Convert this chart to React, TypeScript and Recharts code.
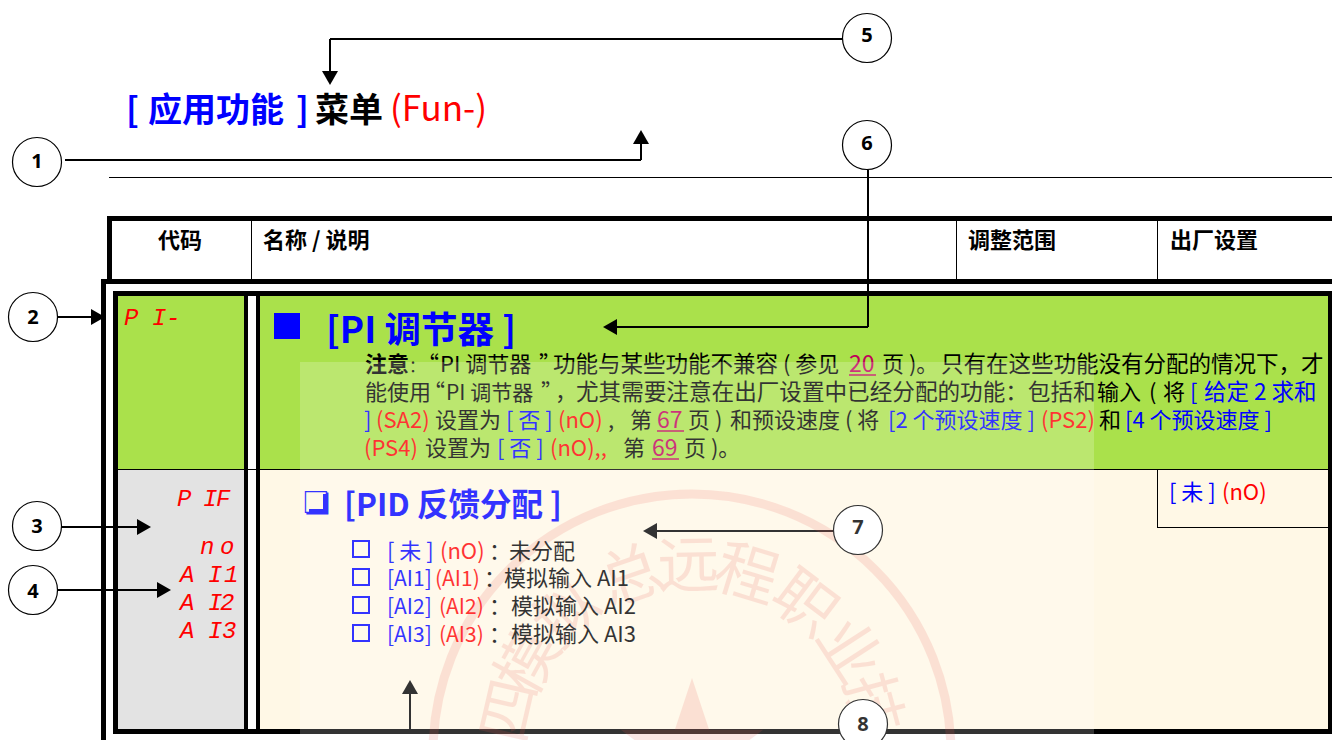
import { ReferenceArea, ReferenceLine, Scatter, ScatterChart, XAxis, YAxis } from "recharts";

const WIDTH = 1332;
const HEIGHT = 740;

const CJK = '"Noto Sans CJK SC", "Noto Sans", sans-serif';
const SEG = '"Liberation Mono", monospace';

const colors: any = {
  blue: "#0000ff",
  red: "#ff0000",
  ink: "#000000",
  link: "#c0005a",
  green: "#aae14b",
  grey: "#e3e3e3",
  cream: "#fff8e6",
};

// callouts
const calloutLabels = ["1", "2", "3", "4", "5", "6", "7", "8"];
const calloutX = [37, 33, 37, 33, 867, 867, 858, 863];
const calloutY = [162, 317, 526, 590, 38, 145, 530, 724];
const calloutBaseline = [168, 324, 533, 598, 42, 150, 534, 731];

// leader lines: x1, y1, x2, y2
const leaders = [
  [330, 39, 842, 39],
  [330, 39, 330, 72],
  [65, 160, 641, 160],
  [641, 160, 641, 143],
  [58, 317, 92, 317],
  [55, 527, 138, 527],
  [58, 590, 158, 590],
  [868, 170, 868, 327],
  [868, 327, 616, 327],
  [833, 531, 655, 531],
  [410, 729, 410, 693],
];

// arrow heads: tip x, tip y, direction
const arrowTips = [
  { x: 330, y: 85, dir: "down" },
  { x: 641, y: 130, dir: "up" },
  { x: 105, y: 317, dir: "right" },
  { x: 151, y: 527, dir: "right" },
  { x: 171, y: 590, dir: "right" },
  { x: 603, y: 327, dir: "left" },
  { x: 643, y: 531, dir: "left" },
  { x: 410, y: 680, dir: "up" },
];

// table cells and rules: x1, y1, x2, y2, colour
const cells: any[] = [
  [118, 296, 244, 469, colors.green],
  [260, 296, 1328, 469, colors.green],
  [118, 470, 244, 729, colors.grey],
  [260, 470, 1328, 729, colors.cream],
];
const rules: any[] = [
  [109, 177, 1332, 178],
  [107, 216, 1332, 221],
  [107, 216, 112, 280],
  [251, 221, 252, 280],
  [956, 221, 957, 280],
  [1157, 221, 1158, 280],
  [101, 279, 1332, 284],
  [101, 279, 106, 740],
  [113, 291, 1332, 296],
  [113, 291, 118, 734],
  [244, 291, 248, 734],
  [256, 291, 260, 734],
  [1328, 291, 1332, 734],
  [113, 729, 1332, 734],
  [118, 469, 1328, 470],
  [1157, 470, 1158, 528],
  [1157, 527, 1328, 528],
];
const solidBoxes: any[] = [
  [274, 313, 300, 339],
  [323, 494, 327, 513],
  [309, 509, 327, 513],
];
const checkBoxes = [541, 569, 597, 625];

// x, baseline, text, colour, size, bold
const textRuns: any[] = [
  [126, 122, "[", "blue", 34, 1],
  [148, 122, "应用功能", "blue", 34, 1],
  [296, 122, "]", "blue", 34, 1],
  [315, 122, "菜单", "ink", 34, 1],
  [390, 121, "(Fun-)", "red", 35, 0],

  [158, 248, "代码", "ink", 22, 1],
  [263, 248, "名称 / 说明", "ink", 22, 1],
  [968, 248, "调整范围", "ink", 22, 1],
  [1170, 248, "出厂设置", "ink", 22, 1],

  [326, 343, "[PI 调节器 ]", "blue", 36.5, 1],

  [365, 372, "注意", "ink", 22, 1],
  [409, 372, "：", "ink", 16, 0],
  [417, 372, "“", "ink", 22, 0],
  [440, 372, "PI 调节器", "ink", 22, 0],
  [539, 372, "”", "ink", 22, 0],
  [553, 372, "功能与某些功能不兼容", "ink", 22.5, 0],
  [783, 372, "( 参见", "ink", 22, 0],
  [849, 372, "20", "link", 23, 0],
  [882, 372, "页 )。", "ink", 22, 0],
  [941, 372, "只有在这些功能没有分配的情况下，才", "ink", 22.5, 0],

  [365, 400, "能使用", "ink", 22, 0],
  [423, 400, "“", "ink", 22, 0],
  [446, 400, "PI 调节器", "ink", 21, 0],
  [541, 400, "”", "ink", 22, 0],
  [555, 400, "，", "ink", 22, 0],
  [576, 400, "尤其需要注意在出厂设置中已经分配的功能：包括和", "ink", 22.6, 0],
  [1097, 400, "输入", "ink", 22, 0],
  [1149, 400, "(", "ink", 22, 0],
  [1163, 400, "将", "ink", 22, 0],
  [1190, 400, "[", "blue", 22, 0],
  [1204, 400, "给定 2 求和", "blue", 22.5, 0],

  [364, 428, "]", "blue", 22, 0],
  [376, 428, "(SA2)", "red", 22, 0],
  [435, 428, "设置为", "ink", 22, 0],
  [506, 428, "[ 否 ]", "blue", 22, 0],
  [558, 428, "(nO)", "red", 22, 0],
  [608, 428, ",", "ink", 22, 0],
  [630, 428, "第", "ink", 22, 0],
  [657, 428, "67", "link", 23, 0],
  [688, 428, "页 )", "ink", 22, 0],
  [730, 428, "和预设速度 ( 将", "ink", 22, 0],
  [888, 428, "[2 个预设速度 ]", "blue", 22, 0],
  [1041, 428, "(PS2)", "red", 22, 0],
  [1099, 428, "和", "ink", 22, 0],
  [1125, 428, "[4 个预设速度 ]", "blue", 22, 0],

  [364, 456, "(PS4)", "red", 22, 0],
  [425, 456, "设置为", "ink", 22, 0],
  [497, 456, "[ 否 ]", "blue", 22, 0],
  [550, 456, "(nO),,", "red", 22, 0],
  [623, 456, "第", "ink", 22, 0],
  [652, 456, "69", "link", 23, 0],
  [684, 456, "页 )。", "ink", 22, 0],

  [1169, 500, "[ 未 ]", "blue", 22, 0],
  [1222, 500, "(nO)", "red", 22, 0],

  [344, 516, "[PID 反馈分配 ]", "blue", 31.5, 1],

  [387, 559, "[ 未 ]", "blue", 22, 0],
  [440, 559, "(nO)", "red", 22, 0],
  [489, 559, "：", "ink", 22, 0],
  [509, 559, "未分配", "ink", 22, 0],
  [387, 586, "[AI1]", "blue", 21, 0],
  [435, 586, "(AI1)", "red", 21, 0],
  [484, 586, "：", "ink", 22, 0],
  [504, 586, "模拟输入 AI1", "ink", 22, 0],
  [387, 614, "[AI2]", "blue", 21, 0],
  [439, 614, "(AI2)", "red", 21, 0],
  [489, 614, "：", "ink", 22, 0],
  [511, 614, "模拟输入 AI2", "ink", 22, 0],
  [387, 642, "[AI3]", "blue", 21, 0],
  [439, 642, "(AI3)", "red", 21, 0],
  [489, 642, "：", "ink", 22, 0],
  [511, 642, "模拟输入 AI3", "ink", 22, 0],
];

const underlines = [
  [849, 876, 375],
  [657, 684, 431],
  [652, 679, 459],
];

// drive display codes: x, baseline, text
const displayCodes: any[] = [
  [124, 325, "P"], [152, 325, "I"], [166, 325, "-"],
  [177, 506, "P"], [203, 506, "I"], [216, 506, "F"],
  [200, 554, "n"], [220, 554, "o"],
  [180, 582, "A"], [208, 582, "I"], [224, 582, "1"],
  [180, 610, "A"], [208, 610, "I"], [220, 610, "2"],
  [180, 638, "A"], [208, 638, "I"], [222, 638, "3"],
];

// stamp behind the lower row
const stampChars = ["四", "模", "拟", "总", "远", "程", "职", "业", "技"];
const stampAngles = [-77, -61, -42, -19, -1, 17, 37, 57, 75];
const stampCentre = { x: 692, y: 753 };
const stampRing = 259;
const stampTextRadius = 190;

const veil = { x: 300, y: 362, w: 794, h: 378 };

const calloutData = calloutLabels.map((label, i) => ({
  label,
  x: calloutX[i],
  y: calloutY[i],
  base: calloutBaseline[i],
}));
const textData = textRuns.map(([x, y, text, color, size, bold]) => ({ x, y, text, color, size, bold }));
const codeData = displayCodes.map(([x, y, text]) => ({ x, y, text }));
const underlineData = underlines.map(([x, x2, y]) => ({ x, x2, y }));

const TextMark = ({ cx, cy, payload }: any) => (
  <text
    x={cx}
    y={cy}
    fill={colors[payload.color]}
    fontFamily={CJK}
    fontSize={payload.size}
    fontWeight={payload.bold ? 700 : 400}
    style={{ whiteSpace: "pre" }}
  >
    {payload.text}
  </text>
);

const CodeMark = ({ cx, cy, payload }: any) => (
  <text x={cx} y={cy} fill={colors.red} fontFamily={SEG} fontStyle="italic" fontSize={24}>
    {payload.text}
  </text>
);

const UnderlineMark = ({ cx, cy, payload }: any) => (
  <line x1={cx} x2={cx + payload.x2 - payload.x} y1={cy} y2={cy} stroke={colors.link} strokeWidth={1.5} />
);

const ArrowMark = ({ cx, cy, payload }: any) => {
  const len = 14;
  const half = 8;
  const points: any = {
    down: [[cx, cy], [cx - half, cy - len], [cx + half, cy - len]],
    up: [[cx, cy], [cx - half, cy + len], [cx + half, cy + len]],
    left: [[cx, cy], [cx + len, cy - half], [cx + len, cy + half]],
    right: [[cx, cy], [cx - len, cy - half], [cx - len, cy + half]],
  };
  return <polygon points={points[payload.dir].join(" ")} fill="#000" />;
};

const CalloutMark = ({ cx, cy, payload }: any) => (
  <g>
    <circle cx={cx} cy={cy} r={24.5} fill="#fff" stroke="#000" strokeWidth={1.2} />
    <text
      x={cx}
      y={cy + payload.base - payload.y}
      textAnchor="middle"
      fontFamily='"Noto Sans", sans-serif'
      fontWeight={700}
      fontSize={20}
      fill="#000"
    >
      {payload.label}
    </text>
  </g>
);

const StampMark = ({ cx, cy }: any) => {
  const star = [];
  for (let i = 0; i < 10; i++) {
    const r = i % 2 === 0 ? 75 : 29;
    const a = ((-90 + i * 36) * Math.PI) / 180;
    star.push(`${cx + r * Math.cos(a)},${cy + r * Math.sin(a)}`);
  }
  return (
    <g opacity={0.15}>
      <circle cx={cx} cy={cy} r={stampRing} fill="none" stroke="#e8322c" strokeWidth={9} />
      <polygon points={star.join(" ")} fill="#e8322c" />
      {stampChars.map((ch, i) => (
        <text
          key={ch}
          x={0}
          y={0}
          transform={`rotate(${stampAngles[i]} ${cx} ${cy}) translate(${cx} ${cy - stampTextRadius + 24})`}
          textAnchor="middle"
          fontFamily={CJK}
          fontSize={62}
          fill="#e8322c"
        >
          {ch}
        </text>
      ))}
    </g>
  );
};

const VeilMark = ({ cx, cy }: any) => (
  <rect x={cx} y={cy} width={veil.w} height={veil.h} fill="#fff" fillOpacity={0.2} />
);

const Area = (r: any[], i: number, fill?: string) => (
  <ReferenceArea
    key={`${fill}-${i}`}
    x1={r[0]}
    y1={r[1]}
    x2={r[2]}
    y2={r[3]}
    fill={fill ?? r[4]}
    fillOpacity={1}
    stroke="none"
    ifOverflow="visible"
  />
);

export default function App() {
  return (
    <div style={{ position: "absolute", left: 0, top: 0, width: WIDTH, height: HEIGHT, background: "#fff", overflow: "hidden" }}>
      <ScatterChart width={WIDTH} height={HEIGHT} margin={{ top: 0, right: 0, bottom: 0, left: 0 }}>
        <XAxis type="number" dataKey="x" domain={[0, WIDTH]} allowDataOverflow hide />
        <YAxis type="number" dataKey="y" domain={[0, HEIGHT]} allowDataOverflow reversed hide />

        {cells.map((c, i) => Area(c, i))}
        {rules.map((r, i) => Area(r, i, "#000"))}
        {solidBoxes.map((r, i) => Area(r, i, colors.blue))}
        {checkBoxes.map((y) => (
          <ReferenceArea
            key={y}
            x1={353}
            x2={369}
            y1={y}
            y2={y + 16}
            fill="none"
            stroke={colors.blue}
            strokeWidth={2}
            ifOverflow="visible"
          />
        ))}
        {leaders.map((l, i) => (
          <ReferenceLine
            key={i}
            segment={[
              { x: l[0], y: l[1] },
              { x: l[2], y: l[3] },
            ]}
            stroke="#000"
            strokeWidth={2}
            ifOverflow="visible"
          />
        ))}

        <Scatter data={[stampCentre]} shape={StampMark} isAnimationActive={false} />
        <Scatter data={underlineData} shape={UnderlineMark} isAnimationActive={false} />
        <Scatter data={textData} shape={TextMark} isAnimationActive={false} />
        <Scatter data={codeData} shape={CodeMark} isAnimationActive={false} />
        <Scatter
          data={[{ x: 303, y: 513, text: "❏" }]}
          shape={({ cx, cy, payload }: any) => (
            <text x={cx} y={cy} fill={colors.blue} fontFamily='"DejaVu Sans"' fontSize={30} fontWeight={700}>
              {payload.text}
            </text>
          )}
          isAnimationActive={false}
        />
        <Scatter data={arrowTips} shape={ArrowMark} isAnimationActive={false} />
        <Scatter data={calloutData} shape={CalloutMark} isAnimationActive={false} />
        <Scatter data={[{ x: veil.x, y: veil.y }]} shape={VeilMark} isAnimationActive={false} />
      </ScatterChart>
    </div>
  );
}
